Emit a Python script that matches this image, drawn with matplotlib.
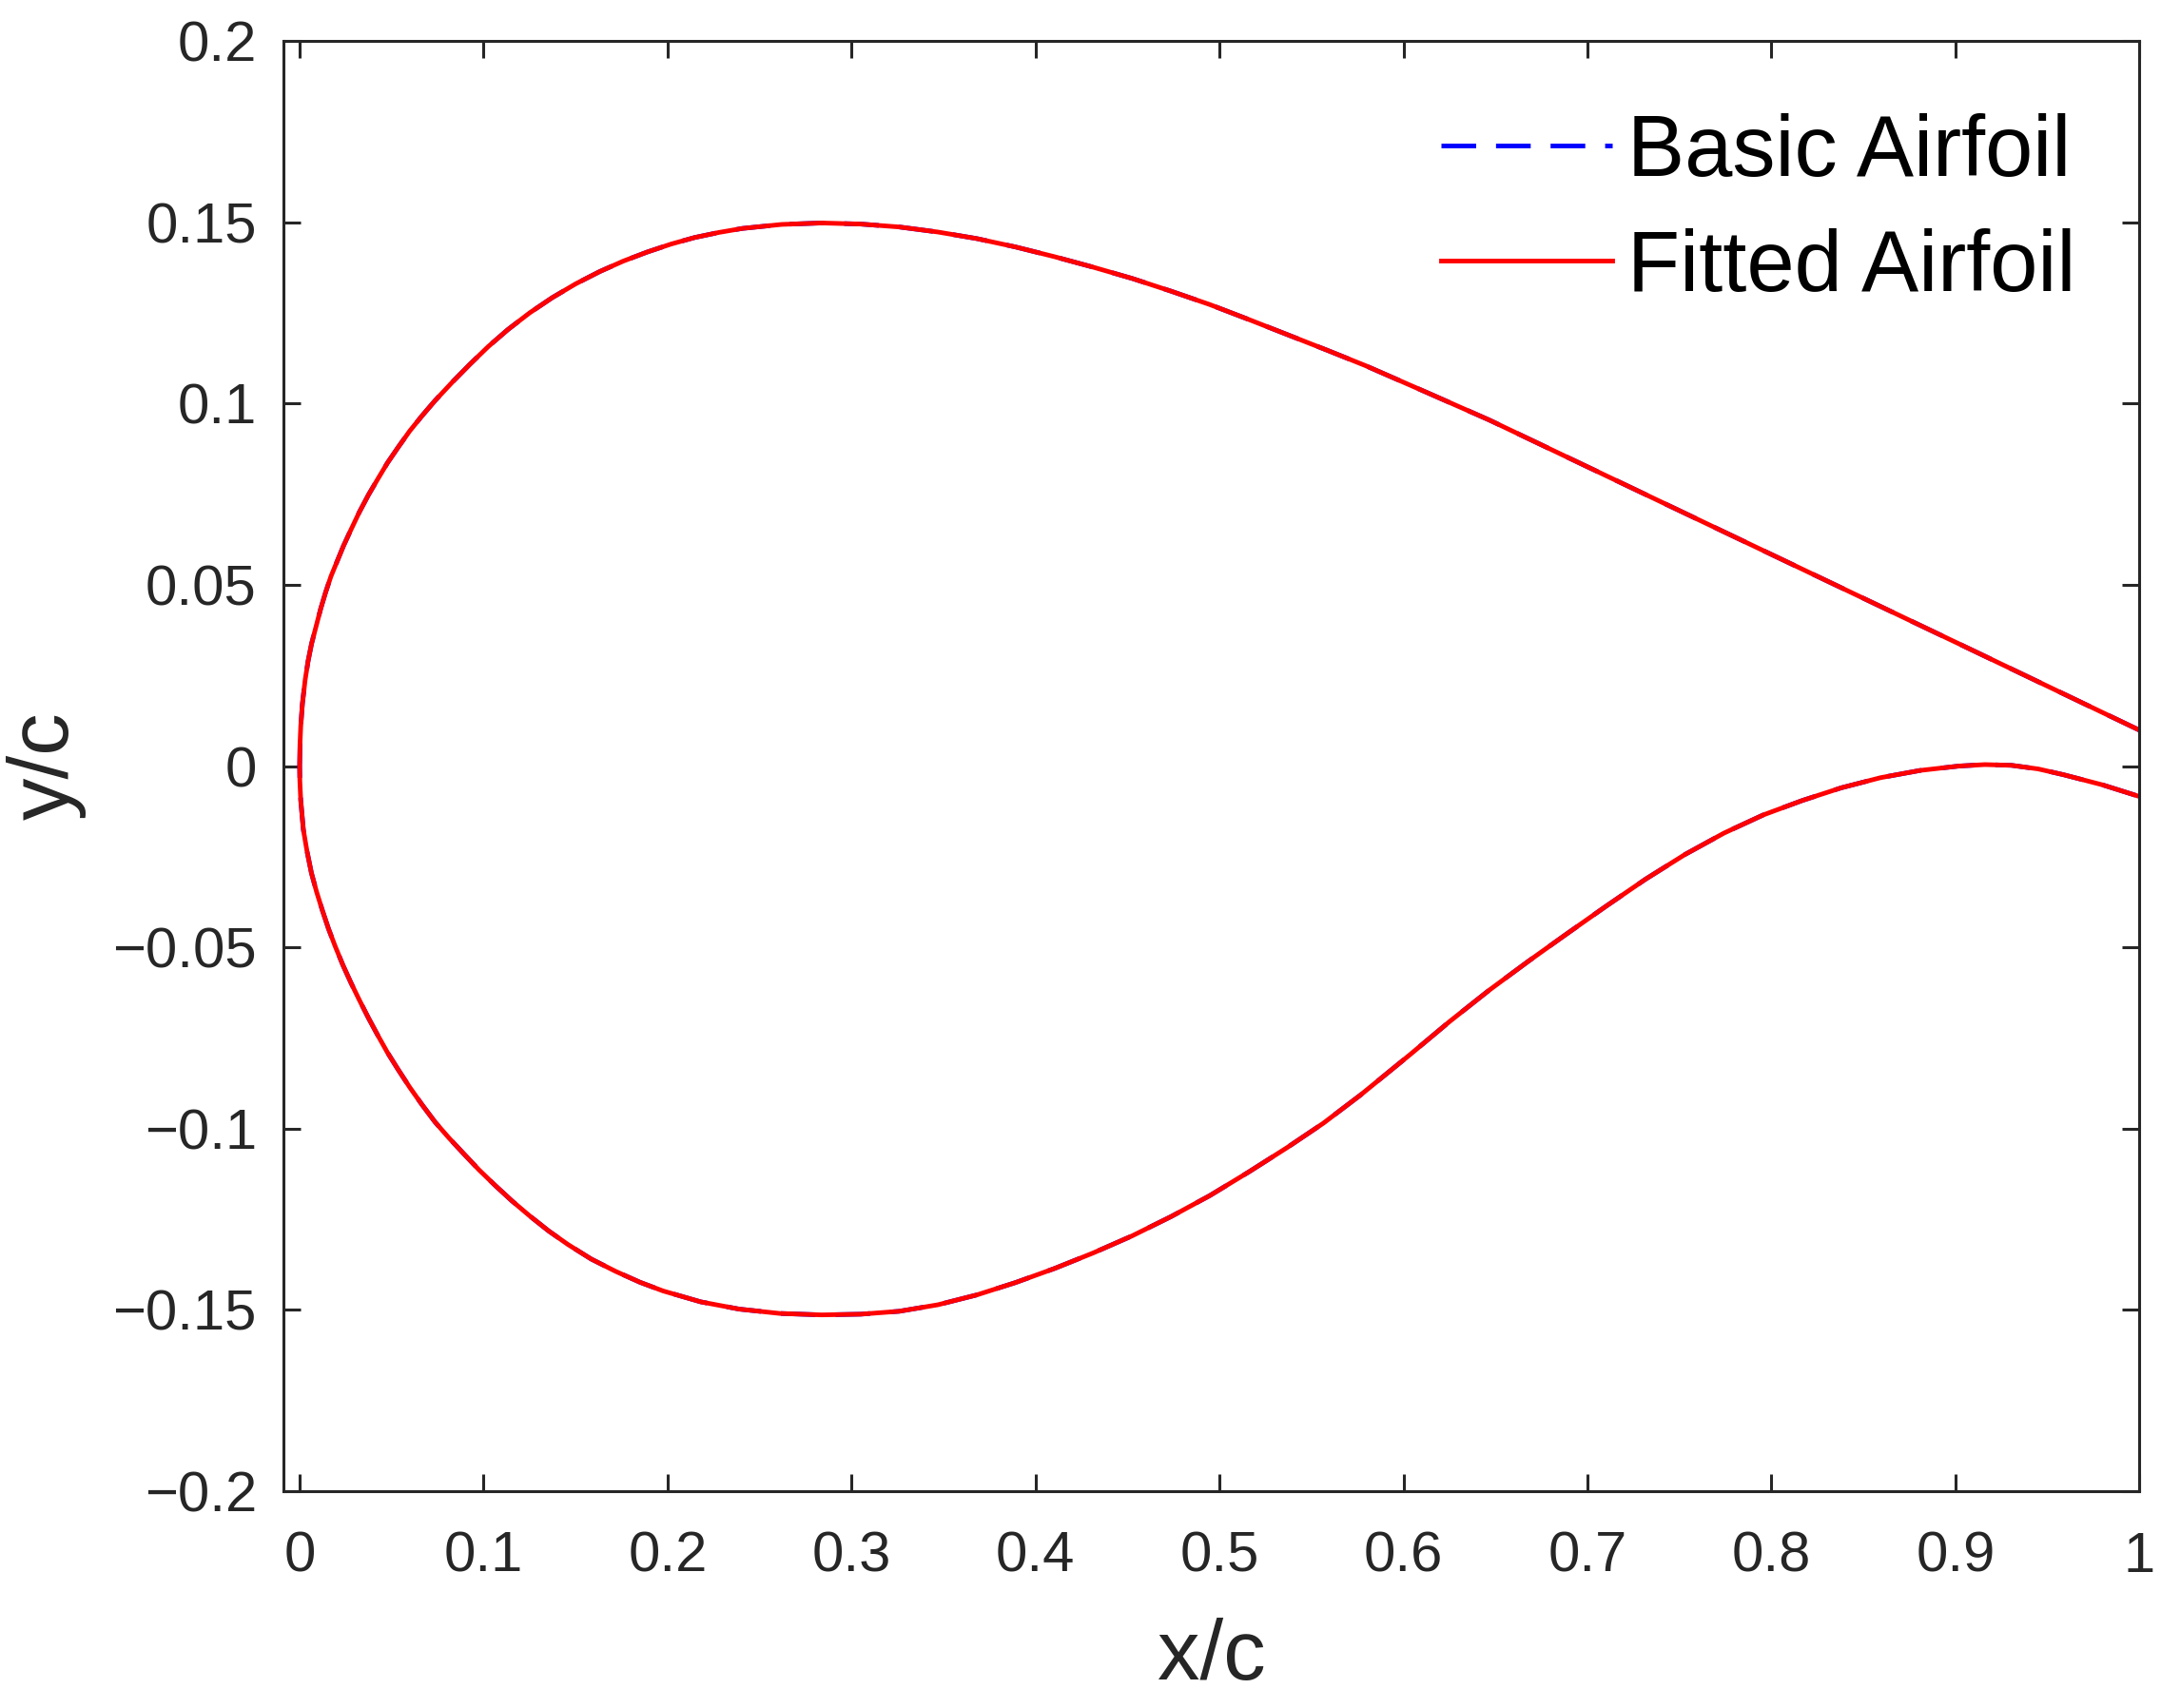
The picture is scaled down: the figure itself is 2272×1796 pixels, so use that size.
import numpy as np
import matplotlib
matplotlib.use('Agg')
import matplotlib.pyplot as plt

plt.rcParams['font.family'] = ['Liberation Sans', 'DejaVu Sans']

# upper surface (x/c, y/c)
upper_x = [0.0, 0.0002, 0.0006, 0.0015, 0.003, 0.0046, 0.0065, 0.0089, 0.0115, 0.0141,
           0.017, 0.0201, 0.0238, 0.0279, 0.0325, 0.0374, 0.0425, 0.0477, 0.0535, 0.0598,
           0.0665, 0.0736, 0.083, 0.0925, 0.1025, 0.1132, 0.125, 0.1373, 0.15, 0.1631,
           0.176, 0.189, 0.202, 0.2148, 0.228, 0.2407, 0.262, 0.2837, 0.305, 0.3259,
           0.347, 0.368, 0.389, 0.4103, 0.4314, 0.4525, 0.4736, 0.4947, 0.5158, 0.5369,
           0.558, 0.5791, 0.6129, 0.6464, 0.689, 0.7316, 0.7742, 0.8168, 0.8594, 0.902,
           0.951, 1.0]
upper_y = [0.0, 0.0062, 0.011, 0.0172, 0.0238, 0.029, 0.0338, 0.0385, 0.0435, 0.0479,
           0.0523, 0.0561, 0.0607, 0.0652, 0.0701, 0.0748, 0.0792, 0.0836, 0.0879, 0.0924,
           0.0966, 0.1008, 0.1059, 0.1108, 0.1157, 0.1204, 0.125, 0.1292, 0.133, 0.1364,
           0.1393, 0.1418, 0.144, 0.1458, 0.1472, 0.1483, 0.1494, 0.1498, 0.1495, 0.1487,
           0.1473, 0.1455, 0.1432, 0.1405, 0.1376, 0.1345, 0.131, 0.1273, 0.1232, 0.119,
           0.1148, 0.1105, 0.103, 0.0955, 0.0852, 0.0749, 0.0646, 0.0543, 0.044, 0.0337,
           0.0218, 0.0099]

# lower surface
lower_x = [0.0, 0.0001, 0.0006, 0.002, 0.004, 0.0064, 0.0092, 0.0124, 0.0157, 0.0193,
           0.0235, 0.0279, 0.0325, 0.0374, 0.0425, 0.0477, 0.0535, 0.0598, 0.0665, 0.0736,
           0.081, 0.0891, 0.0975, 0.1063, 0.1155, 0.1253, 0.1355, 0.1459, 0.1585, 0.1718,
           0.185, 0.1976, 0.218, 0.2389, 0.261, 0.2837, 0.305, 0.3259, 0.347, 0.368,
           0.389, 0.4103, 0.4314, 0.4525, 0.4736, 0.4947, 0.5158, 0.5369, 0.5565, 0.5765,
           0.6038, 0.625, 0.6464, 0.668, 0.689, 0.71, 0.7316, 0.753, 0.7742, 0.7955,
           0.8168, 0.838, 0.8594, 0.881, 0.902, 0.916, 0.9304, 0.945, 0.9588, 0.98, 1.0]
lower_y = [0.0, -0.004, -0.0095, -0.0175, -0.0235, -0.0295, -0.0347, -0.0399, -0.0449, -0.0497,
           -0.0549, -0.0598, -0.0646, -0.0695, -0.0743, -0.079, -0.0837, -0.0886, -0.0934, -0.0982,
           -0.1025, -0.1069, -0.1114, -0.1157, -0.12, -0.1242, -0.1283, -0.132, -0.136, -0.1394,
           -0.1424, -0.1448, -0.1478, -0.1498, -0.151, -0.1514, -0.1512, -0.1504, -0.1486, -0.1459,
           -0.1425, -0.1386, -0.1343, -0.1296, -0.1243, -0.1185, -0.112, -0.1052, -0.0985, -0.0908,
           -0.0795, -0.0705, -0.0619, -0.0538, -0.0462, -0.0387, -0.0312, -0.0244, -0.0185, -0.0135,
           -0.0095, -0.006, -0.0032, -0.0012, 0.0, 0.0004, 0.0002, -0.0008, -0.0024, -0.0052, -0.0084]

# closed contour: trailing edge upper -> LE -> trailing edge lower
basic_x = upper_x[::-1] + lower_x[1:]
basic_y = upper_y[::-1] + lower_y[1:]
fitted_x = list(basic_x)
fitted_y = list(basic_y)

xticks = [0, 0.1, 0.2, 0.3, 0.4, 0.5, 0.6, 0.7, 0.8, 0.9, 1]
xticklabels = ['0', '0.1', '0.2', '0.3', '0.4', '0.5', '0.6', '0.7', '0.8', '0.9', '1']
yticks = [-0.2, -0.15, -0.1, -0.05, 0, 0.05, 0.1, 0.15, 0.2]
yticklabels = ['\u22120.2', '\u22120.15', '\u22120.1', '\u22120.05', '0', '0.05', '0.1', '0.15', '0.2']

fig = plt.figure(figsize=(22.72, 17.96), dpi=100)
ax = fig.add_axes([0.131, 0.127, 0.859, 0.849])

ax.plot(basic_x, basic_y, color='blue', linestyle=(0, (7.5, 4.3)), lw=3.5, label='Basic Airfoil')
ax.plot(fitted_x, fitted_y, color='red', linestyle='-', lw=3.5, label='Fitted Airfoil')

ax.set_xlim(-0.009, 1)
ax.set_ylim(-0.2, 0.2)
ax.set_xticks(xticks)
ax.set_xticklabels(xticklabels)
ax.set_yticks(yticks)
ax.set_yticklabels(yticklabels)

for s in ax.spines.values():
    s.set_linewidth(2.2)
    s.set_color('#262626')
ax.tick_params(direction='in', length=13, width=2.2, color='#262626',
               top=True, right=True, labelsize=43, labelcolor='#262626')
ax.tick_params(axis='x', pad=30)
ax.tick_params(axis='y', pad=20)

ax.set_xlabel('x/c', fontsize=64, color='#262626', labelpad=26)
ax.set_ylabel('y/c', fontsize=64, color='#262626', labelpad=20)

ax.legend(loc='upper right', bbox_to_anchor=(0.984, 0.974), frameon=False, fontsize=65,
          handlelength=2.0, handletextpad=0.17, labelspacing=0.4, borderaxespad=0)

plt.savefig('out.png', dpi=100)
